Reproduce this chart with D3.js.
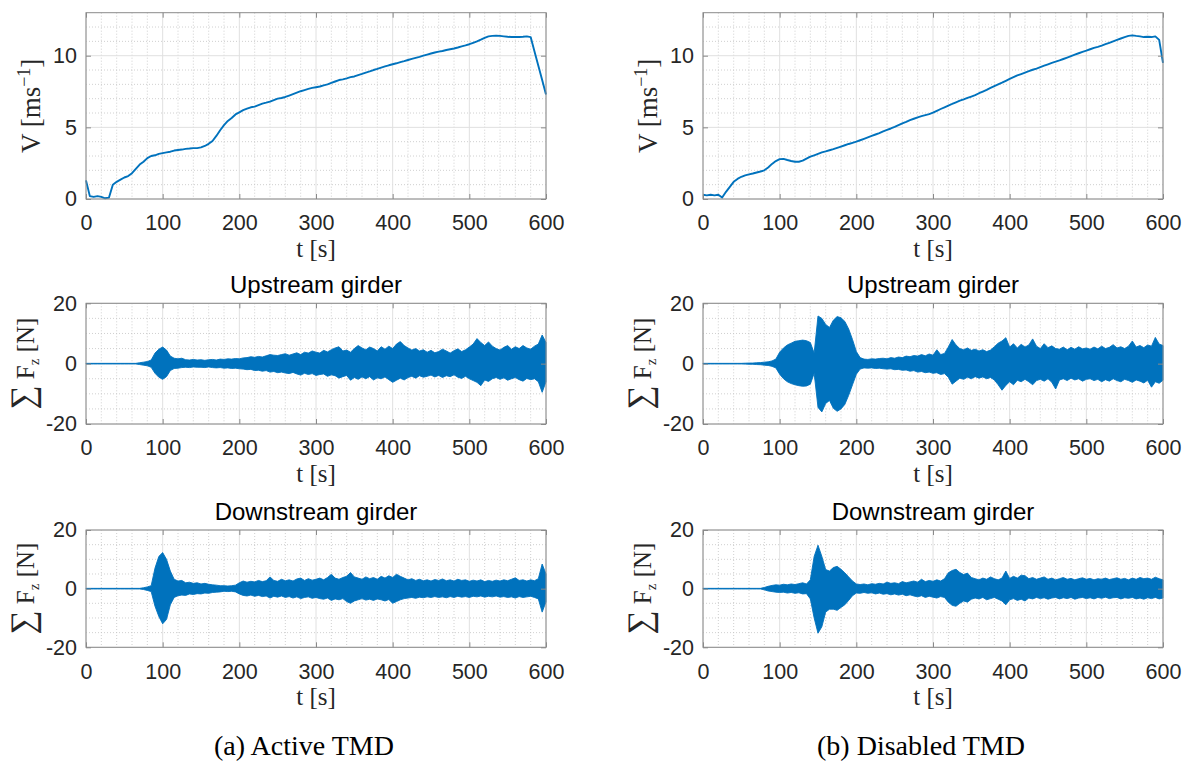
<!DOCTYPE html>
<html>
<head>
<meta charset="utf-8">
<script src="https://cdn.jsdelivr.net/npm/d3@7"></script>
<style>
  body { margin: 0; background: #fff; }
  svg { display: block; }
</style>
</head>
<body>
<svg id="fig" width="1189" height="765"></svg>
<script>
// sample times of all series, one value every 5 s
const tSample = d3.range(0, 601, 5);

// tick labels
const tTicks = [0, 100, 200, 300, 400, 500, 600];
const vTicks = [0, 5, 10];
const fTicks = [-20, 0, 20];

// wind speed V [m/s]
const vActive = [
  1.3, 0.2, 0.15, 0.2, 0.15, 0.05, 0.1, 1.0, 1.2, 1.35,
  1.5, 1.6, 1.8, 2.1, 2.4, 2.6, 2.85, 3.0, 3.05, 3.15,
  3.2, 3.25, 3.3, 3.38, 3.42, 3.45, 3.5, 3.52, 3.55, 3.55,
  3.6, 3.7, 3.85, 4.05, 4.4, 4.8, 5.15, 5.45, 5.65, 5.9,
  6.05, 6.2, 6.3, 6.4, 6.45, 6.55, 6.65, 6.72, 6.8, 6.9,
  7.0, 7.05, 7.12, 7.22, 7.32, 7.42, 7.52, 7.6, 7.68, 7.75,
  7.8, 7.85, 7.93, 8.0, 8.1, 8.2, 8.3, 8.35, 8.42, 8.5,
  8.55, 8.65, 8.73, 8.82, 8.9, 9.0, 9.08, 9.17, 9.25, 9.33,
  9.4, 9.47, 9.55, 9.62, 9.7, 9.78, 9.85, 9.92, 10.0, 10.08,
  10.15, 10.22, 10.28, 10.33, 10.4, 10.45, 10.5, 10.57, 10.65, 10.72,
  10.8, 10.9, 11.0, 11.12, 11.25, 11.35, 11.38, 11.4, 11.38, 11.35,
  11.32, 11.3, 11.3, 11.3, 11.32, 11.35, 11.3, 10.3, 9.3, 8.3,
  7.3
];
const vDisabled = [
  0.3, 0.25, 0.3, 0.25, 0.3, 0.1, 0.5, 0.85, 1.2, 1.4,
  1.55, 1.65, 1.72, 1.78, 1.85, 1.92, 2.0, 2.2, 2.45, 2.65,
  2.78, 2.8, 2.72, 2.65, 2.6, 2.6, 2.68, 2.82, 2.95, 3.05,
  3.15, 3.25, 3.32, 3.4, 3.48, 3.57, 3.66, 3.75, 3.84, 3.92,
  4.0, 4.1, 4.2, 4.3, 4.4, 4.5, 4.6, 4.72, 4.82, 4.92,
  5.03, 5.15, 5.27, 5.38, 5.5, 5.6, 5.7, 5.78, 5.85, 5.92,
  6.02, 6.15, 6.28, 6.4, 6.52, 6.63, 6.75, 6.86, 6.95, 7.05,
  7.15, 7.25, 7.38, 7.5, 7.62, 7.75, 7.88, 8.0, 8.12, 8.25,
  8.38, 8.5, 8.62, 8.72, 8.82, 8.92, 9.02, 9.1, 9.2, 9.3,
  9.4, 9.5, 9.58, 9.67, 9.77, 9.87, 9.97, 10.07, 10.17, 10.27,
  10.35, 10.45, 10.55, 10.62, 10.7, 10.8, 10.9, 11.0, 11.1, 11.2,
  11.3, 11.38, 11.42, 11.38, 11.35, 11.3, 11.32, 11.3, 11.35, 11.1,
  9.5
];

// girder force envelopes [N]: upper peaks and lower peaks (as magnitudes)
const upActiveHi = [
  0.1, 0.1, 0.1, 0.1, 0.1, 0.1, 0.1, 0.1, 0.1, 0.1,
  0.1, 0.1, 0.1, 0.1, 0.3, 0.5, 0.7, 1.2, 3.5, 4.8,
  5.5, 4.5, 2.5, 1.8, 1.6, 1.8, 1.3, 1.2, 1.4, 1.2,
  1.3, 1.1, 1.3, 1.4, 1.2, 1.5, 1.4, 1.6, 1.5, 1.7,
  1.6, 1.9, 2.0, 2.3, 2.1, 2.4, 2.2, 2.6, 3.0, 2.8,
  2.7, 3.0, 3.3, 2.8, 3.2, 3.6, 3.0, 3.8, 3.5, 4.2,
  3.8, 3.5, 4.4, 3.9, 4.6, 5.2, 5.6, 4.2, 4.5, 3.8,
  5.0, 6.0, 5.2, 4.6, 5.5, 5.0, 4.2, 5.6, 4.8, 5.8,
  5.0, 6.5, 7.3, 6.0, 5.2, 4.5, 5.0, 4.2, 4.6, 3.8,
  4.4, 3.6, 4.0, 4.8, 4.2, 3.5, 4.3, 4.9, 4.0, 4.6,
  5.5, 6.5, 8.3, 7.0, 6.0, 7.2, 5.8, 5.0, 4.5, 5.4,
  6.0, 4.8, 5.6, 5.0, 6.0, 5.2, 4.8, 5.8, 6.5, 9.5,
  7.0
];
const upActiveLo = [
  0.1, 0.1, 0.1, 0.1, 0.1, 0.1, 0.1, 0.1, 0.1, 0.1,
  0.1, 0.1, 0.1, 0.1, 0.3, 0.5, 0.7, 1.2, 3.2, 4.5,
  5.2, 4.3, 2.3, 1.6, 1.5, 1.3, 1.2, 1.3, 1.1, 1.2,
  1.2, 1.3, 1.1, 1.3, 1.4, 1.3, 1.5, 1.4, 1.6, 1.5,
  1.7, 1.8, 2.0, 1.9, 2.3, 2.2, 2.5, 2.3, 2.8, 2.6,
  3.0, 2.8, 3.1, 3.3, 2.9, 3.4, 3.8, 3.2, 3.6, 3.3,
  3.9, 3.6, 3.4, 4.2, 3.7, 4.0, 4.8, 4.3, 3.9, 5.5,
  4.6, 5.2, 4.4, 5.0, 4.3, 5.4, 4.7, 5.0, 4.4, 5.3,
  6.2, 5.5, 4.8, 5.4, 4.6, 4.2, 4.8, 4.0, 4.5, 4.2,
  3.8, 4.4, 3.9, 4.6, 4.0, 4.3, 3.7, 4.5, 4.9, 4.2,
  5.0, 5.6, 6.2, 7.3, 5.4, 5.9, 5.0, 4.6, 5.2, 4.7,
  5.5, 5.0, 4.6, 5.3, 5.8, 4.9, 5.3, 5.0, 6.0, 9.5,
  6.0
];
const upDisabledHi = [
  0.1, 0.1, 0.1, 0.1, 0.1, 0.1, 0.1, 0.1, 0.1, 0.1,
  0.1, 0.15, 0.2, 0.2, 0.3, 0.35, 0.5, 0.6, 0.9, 1.5,
  3.8, 5.2, 6.2, 6.8, 7.4, 7.6, 7.8, 7.6, 7.0, 3.5,
  15.8, 15.0, 13.0, 12.0, 14.4, 15.6, 15.2, 14.0, 11.5, 8.0,
  4.0, 2.0, 1.5, 1.4, 1.6, 1.5, 1.7, 1.8, 1.6, 2.0,
  1.8, 2.2, 2.0, 2.5, 2.3, 2.7, 2.5, 3.0, 2.6, 3.2,
  2.8, 4.6, 3.0, 3.4, 5.5, 8.0, 6.2, 5.0, 4.6, 5.2,
  4.4, 4.8, 4.2, 4.6, 4.0, 4.5, 5.6, 6.8, 7.5, 8.6,
  5.5, 6.6, 5.2, 6.4, 5.5, 6.2, 8.2, 5.8, 5.0, 6.6,
  5.3, 5.9, 5.0, 4.8, 5.5, 4.6, 5.4, 4.8, 5.6, 4.9,
  5.2, 4.8, 5.5, 4.9, 5.8, 5.0, 5.4, 6.3, 5.2, 5.6,
  5.0, 5.8, 7.5, 5.5, 6.0, 5.3, 6.2, 5.8, 8.7, 6.5,
  6.0
];
const upDisabledLo = [
  0.1, 0.1, 0.1, 0.1, 0.1, 0.1, 0.1, 0.1, 0.1, 0.1,
  0.1, 0.15, 0.2, 0.2, 0.3, 0.35, 0.5, 0.6, 0.9, 1.4,
  3.5, 5.0, 6.0, 6.6, 7.0, 7.3, 7.5, 7.4, 6.8, 3.2,
  14.5, 16.0, 13.2, 12.2, 14.8, 15.8, 15.0, 13.5, 10.5, 7.0,
  3.5, 1.8, 1.4, 1.5, 1.4, 1.6, 1.5, 1.7, 1.8, 1.7,
  2.0, 1.9, 2.2, 2.1, 2.5, 2.3, 2.8, 2.6, 3.0, 2.8,
  3.2, 3.0, 3.6, 3.3, 4.5, 6.8, 5.8, 4.8, 5.2, 4.5,
  5.0, 4.3, 4.8, 4.4, 5.0, 4.6, 5.4, 7.0, 8.8, 7.2,
  6.0, 7.0, 5.5, 6.0, 5.2, 6.0, 7.0, 5.6, 5.2, 5.8,
  5.0, 6.2, 8.4, 5.4, 5.0, 5.6, 4.8, 5.4, 5.0, 5.8,
  5.2, 5.0, 5.6, 5.2, 6.0, 5.3, 5.8, 5.0, 5.6, 6.0,
  5.2, 5.6, 6.2, 5.4, 5.8, 6.4, 5.5, 7.8, 6.0, 6.5,
  5.5
];
const downActiveHi = [
  0.1, 0.1, 0.1, 0.1, 0.1, 0.1, 0.1, 0.1, 0.1, 0.1,
  0.1, 0.1, 0.1, 0.1, 0.1, 0.3, 0.6, 1.0, 7.0, 11.0,
  12.3, 10.0, 6.0, 3.2, 2.6, 2.8, 2.0, 2.2, 1.8, 2.0,
  1.6, 1.8, 1.5, 1.3, 1.2, 1.0, 1.0, 0.9, 1.0, 1.2,
  2.0, 2.6, 2.2, 2.5, 2.3, 2.8, 2.4, 2.7, 4.0, 2.8,
  2.5, 3.2, 2.7, 3.0, 2.6, 3.3, 3.6, 2.8, 3.4, 2.9,
  3.2, 3.6, 3.0, 3.8, 4.9, 3.6, 3.2, 3.8, 4.2, 5.5,
  4.0, 3.6, 3.2, 4.0, 3.4, 3.8, 3.2, 4.2, 3.6, 4.4,
  3.8, 4.9, 4.2, 3.6, 3.0, 3.4, 2.8, 3.2, 2.7, 3.0,
  2.6, 3.1, 2.8, 3.3, 2.7, 3.0, 2.6, 3.2, 2.8, 3.0,
  2.5, 2.9, 2.6, 3.0, 2.4, 2.8, 2.5, 2.9, 2.6, 3.0,
  2.7, 3.2, 3.7, 2.8, 3.0, 2.6, 3.0, 2.7, 3.4, 8.4,
  5.0
];
const downActiveLo = [
  0.1, 0.1, 0.1, 0.1, 0.1, 0.1, 0.1, 0.1, 0.1, 0.1,
  0.1, 0.1, 0.1, 0.1, 0.1, 0.3, 0.6, 1.0, 6.0, 9.5,
  12.0, 10.5, 5.5, 3.0, 2.4, 2.2, 2.3, 1.8, 2.0, 1.7,
  1.8, 1.5, 1.6, 1.3, 1.2, 1.1, 0.9, 1.0, 0.9, 1.1,
  1.8, 2.3, 2.5, 2.2, 2.6, 2.3, 2.7, 2.5, 3.2, 2.6,
  2.9, 2.5, 3.0, 2.7, 3.2, 2.8, 3.4, 3.0, 2.8, 3.3,
  3.0, 3.4, 3.6, 3.2, 4.0, 3.5, 3.8, 3.4, 4.4, 5.0,
  4.2, 3.8, 3.4, 3.9, 3.6, 4.0, 3.5, 3.8, 4.2, 3.7,
  5.0, 4.4, 3.8, 3.4, 3.2, 3.0, 3.3, 2.9, 3.1, 2.8,
  3.0, 2.7, 3.0, 2.8, 3.1, 2.7, 3.0, 2.6, 2.9, 2.7,
  3.0, 2.6, 2.8, 2.5, 2.9, 2.6, 2.8, 2.5, 2.9, 2.7,
  3.0, 2.8, 3.2, 2.7, 3.0, 2.8, 2.6, 3.0, 3.5, 8.0,
  4.5
];
const downDisabledHi = [
  0.1, 0.1, 0.1, 0.1, 0.1, 0.1, 0.1, 0.1, 0.1, 0.1,
  0.1, 0.1, 0.1, 0.1, 0.1, 0.1, 0.4, 0.8, 1.1, 1.3,
  1.2, 1.5, 1.3, 1.6, 1.4, 1.7, 2.0, 1.6, 3.0, 11.0,
  14.8, 11.0, 6.5, 6.0, 7.2, 7.6, 6.6, 5.4, 4.0, 2.6,
  1.6, 1.4, 1.6, 1.3, 1.7, 1.5, 1.8, 1.6, 2.2, 1.8,
  2.0, 1.7, 2.4, 2.0, 2.3, 2.6, 2.2, 3.2, 2.4, 2.8,
  2.5, 3.0, 2.6, 3.4, 5.4, 6.2, 6.6, 5.5, 4.8, 5.3,
  3.8, 3.4, 3.0, 3.6, 3.2, 4.0, 3.4, 3.0, 3.6, 6.0,
  3.5, 4.2, 3.6, 4.6, 4.4, 3.4, 3.8, 3.2, 3.6, 4.0,
  3.2, 3.6, 3.0, 3.4, 3.8, 3.2, 3.5, 3.0, 3.4, 3.7,
  3.2, 3.5, 3.0, 3.4, 3.2, 3.6, 3.1, 3.4, 3.7, 3.2,
  3.5, 3.0, 3.6, 3.2, 3.8, 3.4, 3.6, 3.2, 3.9, 3.4,
  3.0
];
const downDisabledLo = [
  0.1, 0.1, 0.1, 0.1, 0.1, 0.1, 0.1, 0.1, 0.1, 0.1,
  0.1, 0.1, 0.1, 0.1, 0.1, 0.1, 0.4, 0.8, 1.0, 1.2,
  1.3, 1.2, 1.5, 1.3, 1.6, 1.4, 1.8, 1.7, 3.5, 10.0,
  15.2, 13.0, 8.0, 7.0, 7.0, 7.4, 6.4, 5.5, 4.0, 2.4,
  1.5, 1.6, 1.3, 1.6, 1.4, 1.8, 1.5, 1.9, 1.7, 2.1,
  1.8, 2.2, 1.9, 2.4, 2.1, 2.5, 2.8, 2.4, 3.0, 2.6,
  2.9, 3.2, 2.7, 3.0, 4.6, 5.7, 6.0, 5.0, 4.2, 4.6,
  3.6, 3.2, 3.5, 3.0, 3.8, 3.4, 3.0, 3.6, 4.2, 5.5,
  3.8, 3.4, 4.0, 3.6, 4.2, 3.2, 3.5, 3.0, 3.4, 3.1,
  3.6, 3.2, 3.0, 3.5, 3.1, 3.4, 3.0, 3.6, 3.2, 3.0,
  3.4, 3.1, 3.5, 3.0, 3.3, 2.9, 3.4, 3.1, 3.0, 3.5,
  3.1, 3.3, 3.0, 3.5, 3.2, 3.6, 3.1, 3.4, 3.0, 3.5,
  3.2
];

const lineColor = '#0072BD';
const axisColor = '#8a8a8a';
const textColor = '#262626';
const sansFont = '"Liberation Sans", Arial, Helvetica, sans-serif';
const serifFont = '"Liberation Serif", "Times New Roman", serif';

const svg = d3.select('#fig');
svg.append('rect').attr('width', 1189).attr('height', 765).attr('fill', '#fff');

// panel frames (pixel boxes of the two columns and three rows)
const columns = [
  { x0: 86, x1: 546, caption: '(a) Active TMD' },
  { x0: 703, x1: 1163, caption: '(b) Disabled TMD' }
];
const rows = [
  { y0: 12.7, y1: 199 },
  { y0: 303.3, y1: 424 },
  { y0: 530, y1: 647.3 }
];

// Draw the grid of one MATLAB-style axes box; returns the scales
function drawAxes(col, row, yDomain, yMajor, yMinorStep) {
    const x = d3.scaleLinear().domain([0, 600]).range([col.x0, col.x1]);
    const y = d3.scaleLinear().domain(yDomain).range([row.y1, row.y0]);
    const g = svg.append('g');

    const xMinor = d3.range(0, 601, 20).filter(v => !tTicks.includes(v) && v > 0 && v < 600);
    const yMinor = d3.range(yDomain[0], yDomain[1] + 1e-9, yMinorStep)
        .filter(v => !yMajor.includes(v) && v > yDomain[0] && v < yDomain[1]);

    // minor grid (dotted)
    g.append('g').selectAll('line').data(xMinor).join('line')
        .attr('x1', d => x(d)).attr('x2', d => x(d))
        .attr('y1', row.y0).attr('y2', row.y1)
        .attr('stroke', '#c4c4c4').attr('stroke-width', 0.8)
        .attr('stroke-dasharray', '1,2');
    g.append('g').selectAll('line').data(yMinor).join('line')
        .attr('x1', col.x0).attr('x2', col.x1)
        .attr('y1', d => y(d)).attr('y2', d => y(d))
        .attr('stroke', '#c4c4c4').attr('stroke-width', 0.8)
        .attr('stroke-dasharray', '1,2');

    // major grid
    g.append('g').selectAll('line').data(tTicks).join('line')
        .attr('x1', d => x(d)).attr('x2', d => x(d))
        .attr('y1', row.y0).attr('y2', row.y1)
        .attr('stroke', '#e0e0e0').attr('stroke-width', 1);
    g.append('g').selectAll('line').data(yMajor).join('line')
        .attr('x1', col.x0).attr('x2', col.x1)
        .attr('y1', d => y(d)).attr('y2', d => y(d))
        .attr('stroke', '#e0e0e0').attr('stroke-width', 1);

    return { x, y, g };
}

// Ticks, tick labels, box and x label on top of the data
function finishAxes(col, row, sc, yMajor) {
    const { x, y } = sc;
    const g = svg.append('g');
    const tick = 5;

    // ticks pointing inward, on all four sides
    const bottom = g.append('g').attr('transform', `translate(0,${row.y1})`)
        .call(d3.axisBottom(x).tickValues(tTicks).tickSize(-tick).tickPadding(16)
            .tickFormat(d => String(d)));
    const top = g.append('g').attr('transform', `translate(0,${row.y0})`)
        .call(d3.axisTop(x).tickValues(tTicks).tickSize(-tick).tickFormat(''));
    const left = g.append('g').attr('transform', `translate(${col.x0},0)`)
        .call(d3.axisLeft(y).tickValues(yMajor).tickSize(-tick).tickPadding(9)
            .tickFormat(d => String(d)));
    const right = g.append('g').attr('transform', `translate(${col.x1},0)`)
        .call(d3.axisRight(y).tickValues(yMajor).tickSize(-tick).tickFormat(''));

    [bottom, top, left, right].forEach(a => {
        a.select('.domain').remove();
        a.selectAll('.tick line').attr('stroke', axisColor);
        a.selectAll('.tick text')
            .attr('fill', textColor)
            .style('font-family', sansFont)
            .style('font-size', '21.5px');
    });

    // box
    g.append('rect')
        .attr('x', col.x0).attr('y', row.y0)
        .attr('width', col.x1 - col.x0).attr('height', row.y1 - row.y0)
        .attr('fill', 'none').attr('stroke', axisColor).attr('stroke-width', 1);

    // x label
    g.append('text')
        .attr('x', (col.x0 + col.x1) / 2).attr('y', row.y1 + 58)
        .attr('text-anchor', 'middle')
        .attr('fill', textColor)
        .style('font-family', serifFont)
        .style('font-size', '25px')
        .text('t [s]');
}

columns.forEach((col, ci) => {
    const vData = ci === 0 ? vActive : vDisabled;
    const upHi = ci === 0 ? upActiveHi : upDisabledHi;
    const upLo = ci === 0 ? upActiveLo : upDisabledLo;
    const dnHi = ci === 0 ? downActiveHi : downDisabledHi;
    const dnLo = ci === 0 ? downActiveLo : downDisabledLo;

    // wind speed
    const s0 = drawAxes(col, rows[0], [0, 13], vTicks, 1);
    const line = d3.line()
        .x((d, i) => s0.x(tSample[i]))
        .y(d => s0.y(d));
    s0.g.append('path')
        .datum(vData)
        .attr('d', line)
        .attr('fill', 'none')
        .attr('stroke', lineColor)
        .attr('stroke-width', 1.9)
        .attr('stroke-linejoin', 'round');
    finishAxes(col, rows[0], s0, vTicks);

    const vl = svg.append('text')
        .attr('transform', `translate(${col.x0 - 46},${(rows[0].y0 + rows[0].y1) / 2}) rotate(-90)`)
        .attr('text-anchor', 'middle')
        .attr('fill', textColor)
        .style('font-family', serifFont)
        .style('font-size', '27px');
    vl.append('tspan').text('V  [ms');
    vl.append('tspan').attr('dy', -10).style('font-size', '18px').text('\u22121');
    vl.append('tspan').attr('dy', 10).text(']');

    // girder forces
    [[rows[1], upHi, upLo, 'Upstream girder'], [rows[2], dnHi, dnLo, 'Downstream girder']]
        .forEach(([row, hi, lo, title]) => {
            const s = drawAxes(col, row, [-20, 20], fTicks, 5);
            const area = d3.area()
                .x((d, i) => s.x(tSample[i]))
                .y0((d, i) => s.y(-lo[i]))
                .y1((d, i) => s.y(hi[i]));
            s.g.append('path')
                .datum(hi)
                .attr('d', area)
                .attr('fill', lineColor)
                .attr('stroke', lineColor)
                .attr('stroke-width', 0.9)
                .attr('stroke-linejoin', 'round');
            finishAxes(col, row, s, fTicks);

            svg.append('text')
                .attr('x', (col.x0 + col.x1) / 2).attr('y', row.y0 - 10)
                .attr('text-anchor', 'middle')
                .attr('fill', '#000')
                .style('font-family', sansFont)
                .style('font-size', '24px')
                .text(title);

            const fl = svg.append('text')
                .attr('transform', `translate(${col.x0 - 52},${(row.y0 + row.y1) / 2}) rotate(-90)`)
                .attr('text-anchor', 'middle')
                .attr('fill', textColor)
                .style('font-family', serifFont)
                .style('font-size', '25px');
            fl.append('tspan').style('font-size', '34px').text('\u2211');
            fl.append('tspan').text(' F');
            fl.append('tspan').attr('dy', 5).style('font-size', '15px').text('z');
            fl.append('tspan').attr('dy', -5).text(' [N]');
        });

    // sub-figure caption
    svg.append('text')
        .attr('x', (col.x0 + col.x1) / 2 - 12).attr('y', 755)
        .attr('text-anchor', 'middle')
        .attr('fill', '#000')
        .style('font-family', serifFont)
        .style('font-size', '28px')
        .text(col.caption);
});
</script>
</body>
</html>
